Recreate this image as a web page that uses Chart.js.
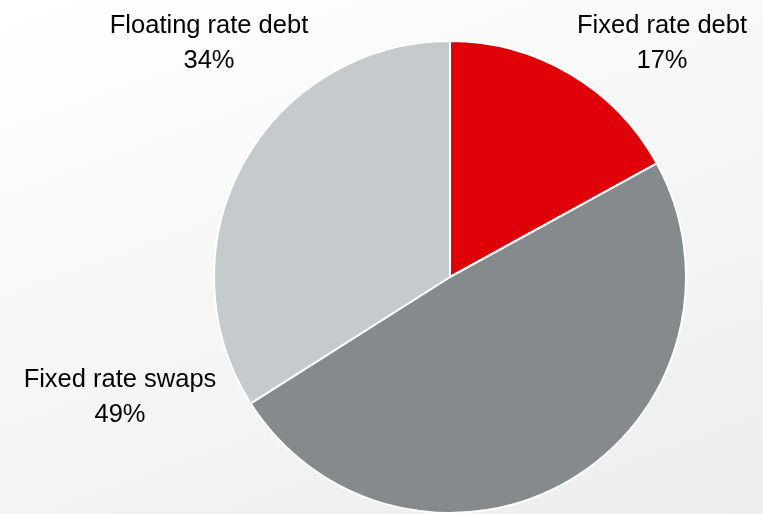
<!DOCTYPE html>
<html>
<head>
<meta charset="utf-8">
<script src="https://cdn.jsdelivr.net/npm/chart.js@4/dist/chart.umd.min.js"></script>
<style>
  html, body { margin: 0; padding: 0; }
  body {
    width: 763px; height: 514px; overflow: hidden;
    background: linear-gradient(160deg, #ffffff 0%, #f7f7f7 45%, #ededed 100%);
  }
  #wrap { position: relative; width: 763px; height: 514px; }
</style>
</head>
<body>
<div id="wrap"><canvas id="pie"></canvas></div>
<script>
const categories = ['Fixed rate debt', 'Fixed rate swaps', 'Floating rate debt'];
const shares = [17, 49, 34];
const sliceColors = ['#e00008', '#858b8c', '#c5cbcc'];

// baseline of the first text line for each label, in canvas pixels
const labelSpots = [
  { x: 662, y: 33 },
  { x: 120, y: 387 },
  { x: 209, y: 33 }
];

const outsideLabels = {
  id: 'outsideLabels',
  afterDraw(chart) {
    const ctx = chart.ctx;
    ctx.save();
    ctx.fillStyle = '#000';
    ctx.font = '25.5px "Liberation Sans", Arial, sans-serif';
    ctx.textAlign = 'center';
    ctx.textBaseline = 'alphabetic';
    chart.data.labels.forEach((name, i) => {
      const p = labelSpots[i];
      ctx.fillText(name, p.x, p.y);
      ctx.fillText(chart.data.datasets[0].data[i] + '%', p.x, p.y + 35);
    });
    ctx.restore();
  }
};

new Chart(document.getElementById('pie'), {
  type: 'pie',
  data: {
    labels: categories,
    datasets: [{
      data: shares,
      backgroundColor: sliceColors,
      borderColor: '#ffffff',
      borderWidth: 2
    }]
  },
  options: {
    responsive: true,
    maintainAspectRatio: false,
    animation: false,
    layout: { padding: { top: 40, bottom: 0, left: 213, right: 76 } },
    plugins: {
      legend: { display: false },
      tooltip: { enabled: false }
    }
  },
  plugins: [outsideLabels]
});
</script>
</body>
</html>
